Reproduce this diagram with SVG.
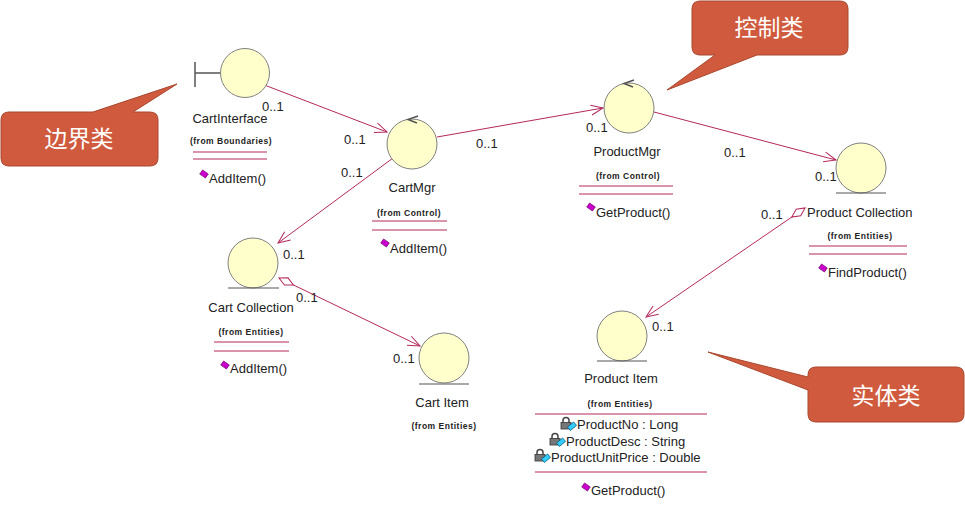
<svg xmlns="http://www.w3.org/2000/svg" width="965" height="514" viewBox="0 0 965 514">
<style>
  .bg{fill:#ffffff}
  .cls{fill:#FFFFCC;stroke:#808080;stroke-width:1}
  .sym{stroke:#555555;stroke-width:1.5;fill:none}
  .base{stroke:#555555;stroke-width:1.2}
  .sep{stroke:#B5285C;stroke-width:1}
  .conn{stroke:#B5285C;stroke-width:1;fill:none}
  .name{font-family:"Liberation Sans",Arial,sans-serif;font-size:13px;fill:#222222}
  .from{font-family:"Liberation Sans",Arial,sans-serif;font-size:8.5px;font-weight:bold;letter-spacing:0.5px;fill:#222222}
  .mult{font-family:"Liberation Sans",Arial,sans-serif;font-size:13px;fill:#222222}
  .op{fill:#CC00CC;stroke:#660066;stroke-width:0.6}
  .call{fill:#D05A3D;stroke:#A9472E;stroke-width:1}
  .cn{font-family:"Noto Sans CJK SC","Noto Sans",sans-serif;font-size:23px;fill:#ffffff;text-anchor:middle}
  .mid{text-anchor:middle}
</style>
<defs>
  <marker id="open" markerUnits="userSpaceOnUse" markerWidth="16" markerHeight="14" refX="13" refY="6" orient="auto">
    <path d="M1,1 L13,6 L1,11" fill="none" stroke="#B5285C" stroke-width="1"/>
  </marker>
  <marker id="agg" markerUnits="userSpaceOnUse" markerWidth="20" markerHeight="12" refX="1" refY="6" orient="auto">
    <path d="M1,6 L9,2 L17,6 L9,10 Z" fill="#ffffff" stroke="#B5285C" stroke-width="1"/>
  </marker>
  <g id="opicon"><rect x="-3.5" y="-2.5" width="7" height="5" transform="rotate(35)" class="op"/></g>
  <g id="attricon">
    <path d="M-3,-1 L-3,-3.5 A3,3 0 0 1 3,-3.5 L3,-1" fill="none" stroke="#444" stroke-width="1.5"/>
    <rect x="-5" y="-1.5" width="10" height="6.5" fill="#777" stroke="#333" stroke-width="0.8"/>
    <rect x="2" y="0" width="8" height="4.5" transform="rotate(-40 6 2.25)" fill="#33CCFF" stroke="#005577" stroke-width="0.7"/>
  </g>
</defs>
<rect class="bg" x="0" y="0" width="965" height="514"/>

<g id="connectors">
  <path class="conn" d="M233,73 L387,132" marker-end="url(#open)"/>
  <path class="conn" d="M412,144 L278,243" marker-end="url(#open)"/>
  <path class="conn" d="M437,137 L603,108" marker-end="url(#open)"/>
  <path class="conn" d="M654,112 L836,160" marker-end="url(#open)"/>
  <path class="conn" d="M279,278 L420,346" marker-start="url(#agg)" marker-end="url(#open)"/>
  <path class="conn" d="M805,208 L646,317" marker-start="url(#agg)" marker-end="url(#open)"/>
  <text class="mult" x="262" y="111">0..1</text>
  <text class="mult" x="344" y="144">0..1</text>
  <text class="mult" x="341" y="177">0..1</text>
  <text class="mult" x="283" y="259">0..1</text>
  <text class="mult" x="296" y="302">0..1</text>
  <text class="mult" x="393" y="363">0..1</text>
  <text class="mult" x="476" y="148">0..1</text>
  <text class="mult" x="586" y="132">0..1</text>
  <text class="mult" x="724" y="157">0..1</text>
  <text class="mult" x="815" y="181">0..1</text>
  <text class="mult" x="761" y="219">0..1</text>
  <text class="mult" x="652" y="331">0..1</text>
</g>

<g id="CartInterface">
  <line class="sym" x1="195" y1="62" x2="195" y2="87"/>
  <line class="sym" x1="195" y1="73" x2="221" y2="73"/>
  <circle class="cls" cx="245" cy="73" r="24.5"/>
  <text class="name mid" x="230" y="123">CartInterface</text>
  <text class="from mid" x="231" y="144">(from Boundaries)</text>
  <line class="sep" x1="193" y1="152" x2="267" y2="152"/>
  <line class="sep" x1="193" y1="159" x2="267" y2="159"/>
  <use href="#opicon" x="204" y="174"/>
  <text class="name" x="209" y="183">AddItem()</text>
</g>

<g id="CartMgr">
  <circle class="cls" cx="412" cy="144" r="25"/>
  <path class="sym" d="M418,116 L408,119.5 L417,123" stroke-width="1.2"/>
  <text class="name mid" x="412" y="192">CartMgr</text>
  <text class="from mid" x="409" y="216">(from Control)</text>
  <line class="sep" x1="372" y1="221" x2="447" y2="221"/>
  <line class="sep" x1="372" y1="230" x2="447" y2="230"/>
  <use href="#opicon" x="385" y="243"/>
  <text class="name" x="390" y="253">AddItem()</text>
</g>

<g id="ProductMgr">
  <circle class="cls" cx="629" cy="108" r="25"/>
  <path class="sym" d="M634,80 L624,83.5 L633,87" stroke-width="1.2"/>
  <text class="name mid" x="627" y="156">ProductMgr</text>
  <text class="from mid" x="628" y="179">(from Control)</text>
  <line class="sep" x1="579" y1="186" x2="673" y2="186"/>
  <line class="sep" x1="579" y1="194" x2="673" y2="194"/>
  <use href="#opicon" x="591" y="207"/>
  <text class="name" x="596" y="217">GetProduct()</text>
</g>

<g id="ProductCollection">
  <circle class="cls" cx="861" cy="168" r="25"/>
  <line class="base" x1="836" y1="193" x2="886" y2="193"/>
  <text class="name" x="807" y="217">Product Collection</text>
  <text class="from mid" x="860" y="239">(from Entities)</text>
  <line class="sep" x1="809" y1="246" x2="907" y2="246"/>
  <line class="sep" x1="809" y1="254" x2="907" y2="254"/>
  <use href="#opicon" x="823" y="268"/>
  <text class="name" x="828" y="277">FindProduct()</text>
</g>

<g id="CartCollection">
  <circle class="cls" cx="253" cy="263" r="25"/>
  <line class="base" x1="228" y1="288" x2="279" y2="288"/>
  <text class="name mid" x="251" y="312">Cart Collection</text>
  <text class="from mid" x="251" y="335">(from Entities)</text>
  <line class="sep" x1="214" y1="342" x2="289" y2="342"/>
  <line class="sep" x1="214" y1="351" x2="289" y2="351"/>
  <use href="#opicon" x="225" y="365"/>
  <text class="name" x="230" y="373">AddItem()</text>
</g>

<g id="CartItem">
  <circle class="cls" cx="444" cy="358" r="25"/>
  <line class="base" x1="419" y1="384" x2="469" y2="384"/>
  <text class="name mid" x="442" y="407">Cart Item</text>
  <text class="from mid" x="444" y="429">(from Entities)</text>
</g>

<g id="ProductItem">
  <circle class="cls" cx="622" cy="336" r="25"/>
  <line class="base" x1="597" y1="361" x2="647" y2="361"/>
  <text class="name mid" x="621" y="383">Product Item</text>
  <text class="from mid" x="620" y="407">(from Entities)</text>
  <line class="sep" x1="535" y1="414" x2="707" y2="414"/>
  <use href="#attricon" x="566" y="424"/>
  <text class="name" x="577" y="429">ProductNo : Long</text>
  <use href="#attricon" x="555" y="440"/>
  <text class="name" x="566" y="446">ProductDesc : String</text>
  <use href="#attricon" x="540" y="456"/>
  <text class="name" x="551" y="462">ProductUnitPrice : Double</text>
  <line class="sep" x1="535" y1="472" x2="707" y2="472"/>
  <use href="#opicon" x="586" y="487"/>
  <text class="name" x="591" y="495">GetProduct()</text>
</g>

<g id="callout-boundary">
  <path class="call" d="M9,112 L93,112 L177,84 L133,112 L150,112 Q158,112 158,120 L158,158 Q158,166 150,166 L9,166 Q1,166 1,158 L1,120 Q1,112 9,112 Z"/>
  <text class="cn" x="79" y="147">边界类</text>
</g>

<g id="callout-control">
  <path class="call" d="M700,1 L840,1 Q848,1 848,9 L848,47 Q848,55 840,55 L757,55 L667,90 L715,55 L700,55 Q692,55 692,47 L692,9 Q692,1 700,1 Z"/>
  <text class="cn" x="769" y="36">控制类</text>
</g>

<g id="callout-entity">
  <path class="call" d="M816,367 L956,367 Q964,367 964,375 L964,414 Q964,422 956,422 L816,422 Q808,422 808,414 L808,390 L708,352 L808,377 L808,375 Q808,367 816,367 Z"/>
  <text class="cn" x="886" y="404">实体类</text>
</g>
</svg>
